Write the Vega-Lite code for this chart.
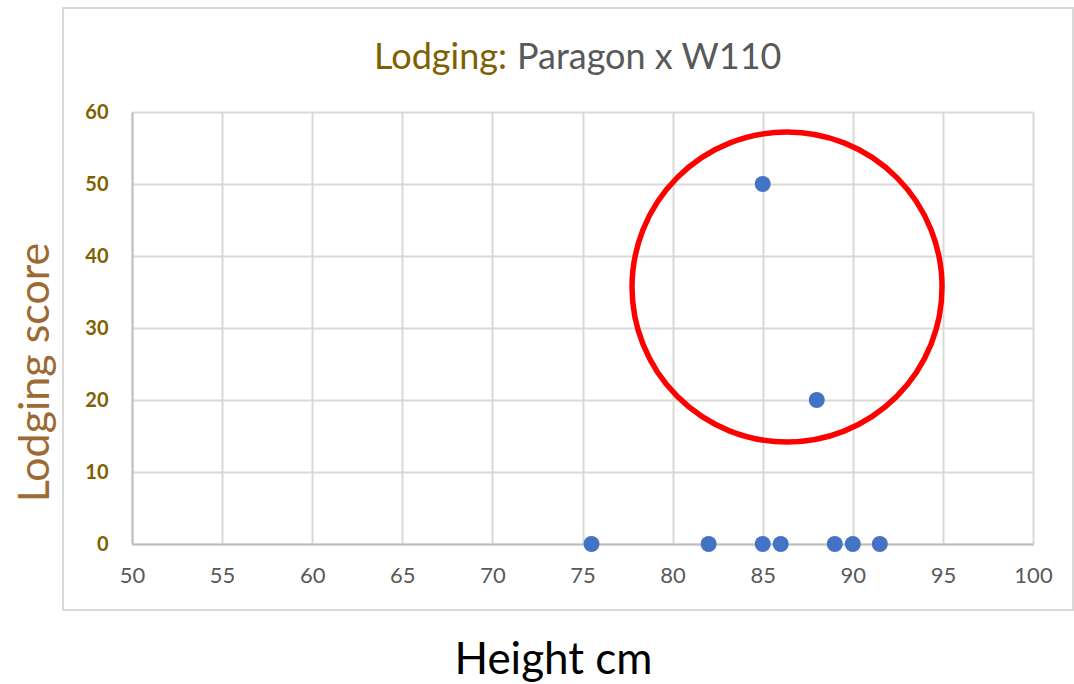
{
  "$schema": "https://vega.github.io/schema/vega-lite/v6.json",
  "autosize": {"type": "none"},
  "width": 901,
  "height": 432,
  "padding": {"left": 132, "top": 112, "right": 41, "bottom": 140},
  "background": "white",
  "config": {"view": {"stroke": null}, "font": "Lato"},
  "layer": [
    {
      "data": {"values": [{"x0": 46.17, "x1": 102.22, "y0": -9.17, "y1": 74.44}]},
      "mark": {"type": "rect", "fill": null, "stroke": "#d9d9d9", "strokeWidth": 2, "clip": false},
      "encoding": {
        "x": {"field": "x0", "type": "quantitative", "scale": {"domain": [50, 100], "nice": false, "zero": false}},
        "x2": {"field": "x1"},
        "y": {"field": "y0", "type": "quantitative", "scale": {"domain": [0, 60], "nice": false}},
        "y2": {"field": "y1"}
      }
    },
    {
      "data": {"values": [
        {"height": 75.5, "score": 0},
        {"height": 82, "score": 0},
        {"height": 85, "score": 0},
        {"height": 86, "score": 0},
        {"height": 89, "score": 0},
        {"height": 90, "score": 0},
        {"height": 91.5, "score": 0},
        {"height": 85, "score": 50},
        {"height": 88, "score": 20}
      ]},
      "mark": {"type": "point", "filled": true, "color": "#4472C4", "opacity": 1, "size": 256, "shape": "circle", "clip": false},
      "encoding": {
        "x": {
          "field": "height", "type": "quantitative",
          "scale": {"domain": [50, 100], "nice": false, "zero": false},
          "axis": {
            "values": [50, 55, 60, 65, 70, 75, 80, 85, 90, 95, 100],
            "title": "Height cm",
            "titleFont": "Lato", "titleFontSize": 44, "titleFontWeight": "normal", "titleColor": "#000000",
            "titleX": 421, "titleY": 116, "titleAlign": "center", "titleBaseline": "middle",
            "labelFont": "Lato", "labelFontSize": 22, "labelColor": "#595959", "labelPadding": 21, "labelFlush": false,
            "ticks": false, "domain": true, "domainColor": "#bfbfbf", "domainWidth": 2,
            "grid": true, "gridColor": "#d9d9d9", "gridWidth": 2
          }
        },
        "y": {
          "field": "score", "type": "quantitative",
          "scale": {"domain": [0, 60], "nice": false},
          "axis": {
            "values": [0, 10, 20, 30, 40, 50, 60],
            "title": "Lodging score",
            "titleFont": "Lato", "titleFontSize": 43, "titleFontWeight": "normal", "titleColor": "#9E6A33",
            "titleAngle": 270, "titleX": -97, "titleY": 260, "titleAlign": "center", "titleBaseline": "middle",
            "labelFont": "Lato", "labelFontSize": 20, "labelFontWeight": "bold", "labelColor": "#7F6000", "labelPadding": 24, "labelFlush": false,
            "ticks": false, "domain": true, "domainColor": "#bfbfbf", "domainWidth": 2,
            "grid": true, "gridColor": "#d9d9d9", "gridWidth": 2
          }
        }
      }
    },
    {
      "data": {"values": [{"height": 86.35, "score": 35.7}]},
      "mark": {"type": "point", "filled": false, "shape": "circle", "stroke": "#FF0000", "strokeWidth": 5.5, "size": 96100, "opacity": 1, "clip": false},
      "encoding": {
        "x": {"field": "height", "type": "quantitative"},
        "y": {"field": "score", "type": "quantitative"}
      }
    },
    {
      "data": {"values": [{"label": "Lodging:", "x": 71.09, "y": 67.5}]},
      "mark": {"type": "text", "align": "right", "baseline": "middle", "dx": -5, "font": "Lato", "fontSize": 36, "color": "#7F6000", "clip": false},
      "encoding": {
        "x": {"field": "x", "type": "quantitative"},
        "y": {"field": "y", "type": "quantitative"},
        "text": {"field": "label"}
      }
    },
    {
      "data": {"values": [{"label": "Paragon x W110", "x": 71.09, "y": 67.5}]},
      "mark": {"type": "text", "align": "left", "baseline": "middle", "dx": 5, "font": "Lato", "fontSize": 36, "color": "#595959", "clip": false},
      "encoding": {
        "x": {"field": "x", "type": "quantitative"},
        "y": {"field": "y", "type": "quantitative"},
        "text": {"field": "label"}
      }
    }
  ]
}
